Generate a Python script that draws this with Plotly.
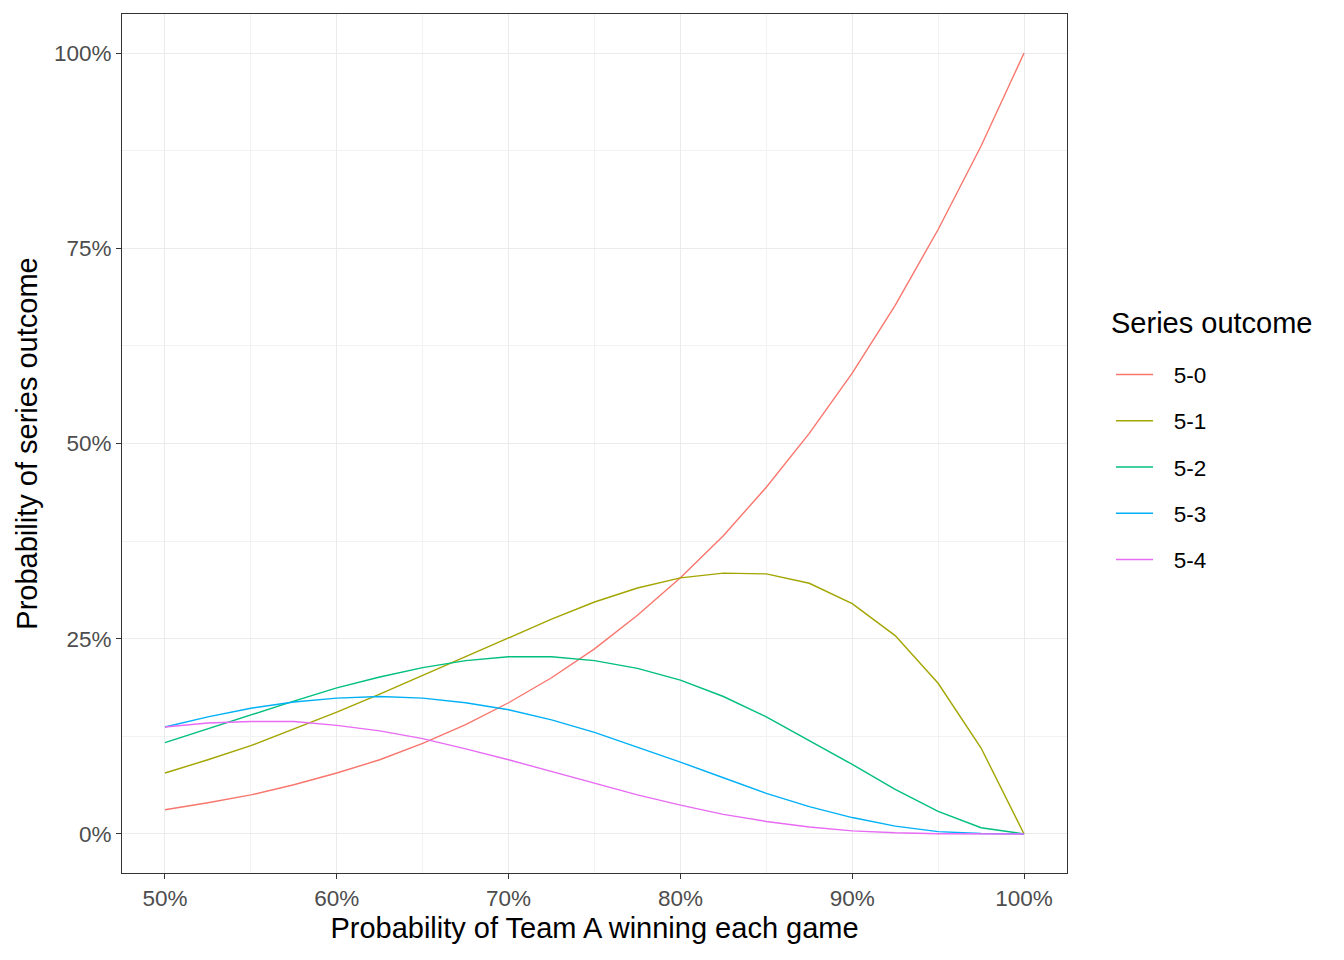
import plotly.graph_objects as go

# probability of Team A winning each game
p_game = [0.500, 0.525, 0.550, 0.575, 0.600, 0.625, 0.650, 0.675, 0.700, 0.725, 0.750,
          0.775, 0.800, 0.825, 0.850, 0.875, 0.900, 0.925, 0.950, 0.975, 1.000]

outcome_5_0 = [0.031, 0.040, 0.050, 0.063, 0.078, 0.095, 0.116, 0.140, 0.168, 0.200, 0.237,
               0.280, 0.328, 0.382, 0.444, 0.513, 0.590, 0.677, 0.774, 0.881, 1.000]
outcome_5_1 = [0.078, 0.095, 0.113, 0.134, 0.156, 0.179, 0.203, 0.228, 0.252, 0.275, 0.297,
               0.315, 0.328, 0.334, 0.333, 0.321, 0.295, 0.254, 0.193, 0.110, 0.000]
outcome_5_2 = [0.117, 0.135, 0.153, 0.170, 0.187, 0.201, 0.213, 0.222, 0.227, 0.227, 0.222,
               0.212, 0.197, 0.176, 0.150, 0.120, 0.089, 0.057, 0.029, 0.008, 0.000]
outcome_5_3 = [0.137, 0.150, 0.161, 0.169, 0.174, 0.176, 0.174, 0.168, 0.159, 0.146, 0.130,
               0.111, 0.092, 0.072, 0.052, 0.035, 0.021, 0.010, 0.003, 0.0005, 0.000]
outcome_5_4 = [0.137, 0.142, 0.144, 0.144, 0.139, 0.132, 0.122, 0.109, 0.095, 0.080, 0.065,
               0.050, 0.037, 0.025, 0.016, 0.009, 0.004, 0.0015, 0.0003, 0.00003, 0.000]

outcome_names = ["5-0", "5-1", "5-2", "5-3", "5-4"]
outcome_values = [outcome_5_0, outcome_5_1, outcome_5_2, outcome_5_3, outcome_5_4]
colors = ["#F8766D", "#A3A500", "#00BF7D", "#00B0F6", "#E76BF3"]

font_family = "Liberation Sans, Arial, sans-serif"
pad = "\u2002\u2009"  # a little room between legend key and label, like ggplot

fig = go.Figure()
for name, vals, col in zip(outcome_names, outcome_values, colors):
    fig.add_trace(go.Scatter(
        x=p_game, y=vals, mode="lines", name=pad + name, legendgroup=name,
        line=dict(color=col, width=1.4),
    ))

axis_common = dict(
    showgrid=True, gridcolor="#EBEBEB", gridwidth=1.1,
    showline=True, linecolor="#333333", linewidth=1.1, mirror=True,
    ticks="outside", ticklen=5, tickcolor="#333333", tickwidth=1.1,
    tickfont=dict(size=22.5, color="#4D4D4D", family=font_family),
    tickformat=".0%", zeroline=False,
)

fig.update_layout(
    width=1344, height=960,
    margin=dict(l=122, r=277, t=14, b=87),
    paper_bgcolor="white", plot_bgcolor="white",
    font=dict(family=font_family, color="black"),
    xaxis=dict(
        **axis_common,
        range=[0.475, 1.025],
        tickvals=[0.5, 0.6, 0.7, 0.8, 0.9, 1.0],
        minor=dict(dtick=0.05, tick0=0.55, showgrid=True, gridcolor="#F2F2F2", gridwidth=0.6, ticks=""),
        title=dict(text="Probability of Team A winning each game",
                   font=dict(size=29, family=font_family), standoff=7),
    ),
    yaxis=dict(
        **axis_common,
        range=[-0.05, 1.05],
        tickvals=[0, 0.25, 0.5, 0.75, 1.0],
        minor=dict(dtick=0.125, tick0=0.125, showgrid=True, gridcolor="#F2F2F2", gridwidth=0.6, ticks=""),
        title=dict(text="Probability of series outcome",
                   font=dict(size=29, family=font_family), standoff=7),
    ),
    legend=dict(
        x=1.0466, xanchor="left", y=0.605, yanchor="top",
        font=dict(size=22.5, family=font_family),
        tracegroupgap=14, itemwidth=37,
        bgcolor="rgba(0,0,0,0)",
    ),
    annotations=[dict(
        text="Series outcome", xref="paper", yref="paper",
        x=1.0444, y=0.640, xanchor="left", yanchor="middle",
        showarrow=False, font=dict(size=29, family=font_family, color="black"),
    )],
)

fig.write_html("out.html", config={"displayModeBar": False},
               post_script="document.body.style.margin='0';")
